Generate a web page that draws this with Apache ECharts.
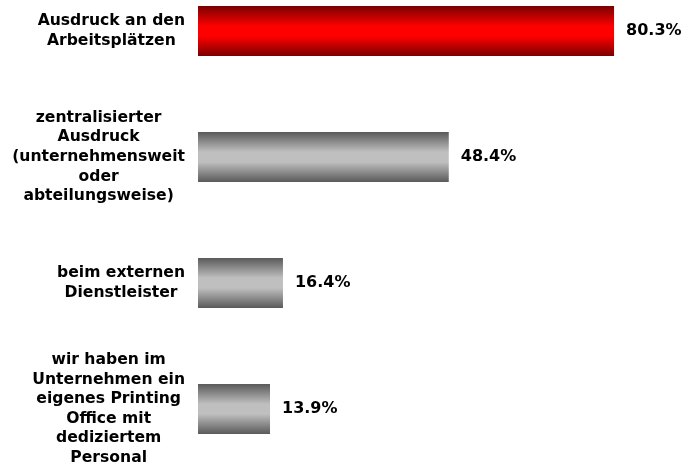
<!DOCTYPE html>
<html>
<head>
<meta charset="utf-8">
<script src="https://cdn.jsdelivr.net/npm/echarts@6/dist/echarts.min.js"></script>
<style>
  html, body { margin: 0; padding: 0; background: #fff; }
  #main { width: 685px; height: 464px; }
</style>
</head>
<body>
<div id="main"></div>
<script>
var categories = [
  'Ausdruck an den\nArbeitsplätzen',
  'zentralisierter\nAusdruck\n(unternehmensweit\noder\nabteilungsweise)',
  'beim externen\nDienstleister',
  'wir haben im\nUnternehmen ein\neigenes Printing\nOffice mit\ndediziertem\nPersonal'
];
var values = [80.3, 48.4, 16.4, 13.9];

var chart = echarts.init(document.getElementById('main'));

function grad(dark, light) {
  return new echarts.graphic.LinearGradient(0, 0, 0, 1, [
    { offset: 0, color: dark },
    { offset: 0.4, color: light },
    { offset: 0.6, color: light },
    { offset: 1, color: dark }
  ]);
}

// erste Kategorie rot, sonst grau
var data = values.map(function (v, i) {
  return {
    value: v,
    itemStyle: { color: i === 0 ? grad('#7a0000', '#ff0000') : grad('#5a5a5a', '#bfbfbf') }
  };
});

chart.setOption({
  animation: false,
  grid: { left: 198, right: 20.7, top: -32, bottom: -8, outerBoundsMode: 'none', containLabel: false },
  xAxis: {
    type: 'value', min: 0, max: 90, show: false
  },
  yAxis: {
    type: 'category',
    inverse: true,
    data: categories,
    axisLine: { show: false },
    axisTick: { show: false },
    axisLabel: {
      margin: 13,
      align: 'right',
      formatter: function (v) { return '{c|' + v + '}'; },
      rich: {
        c: {
          align: 'center',
          color: '#000',
          fontFamily: 'DejaVu Sans',
          fontWeight: 'bold',
          fontSize: 15.6,
          lineHeight: 19.6
        }
      }
    }
  },
  series: [{
    type: 'bar',
    barWidth: 50,
    data: data,
    label: {
      show: true,
      position: 'right',
      distance: 12,
      color: '#000',
      fontFamily: 'DejaVu Sans',
      fontWeight: 'bold',
      fontSize: 16,
      formatter: function (p) { return p.value.toFixed(1) + '%'; }
    }
  }]
});
</script>
</body>
</html>
